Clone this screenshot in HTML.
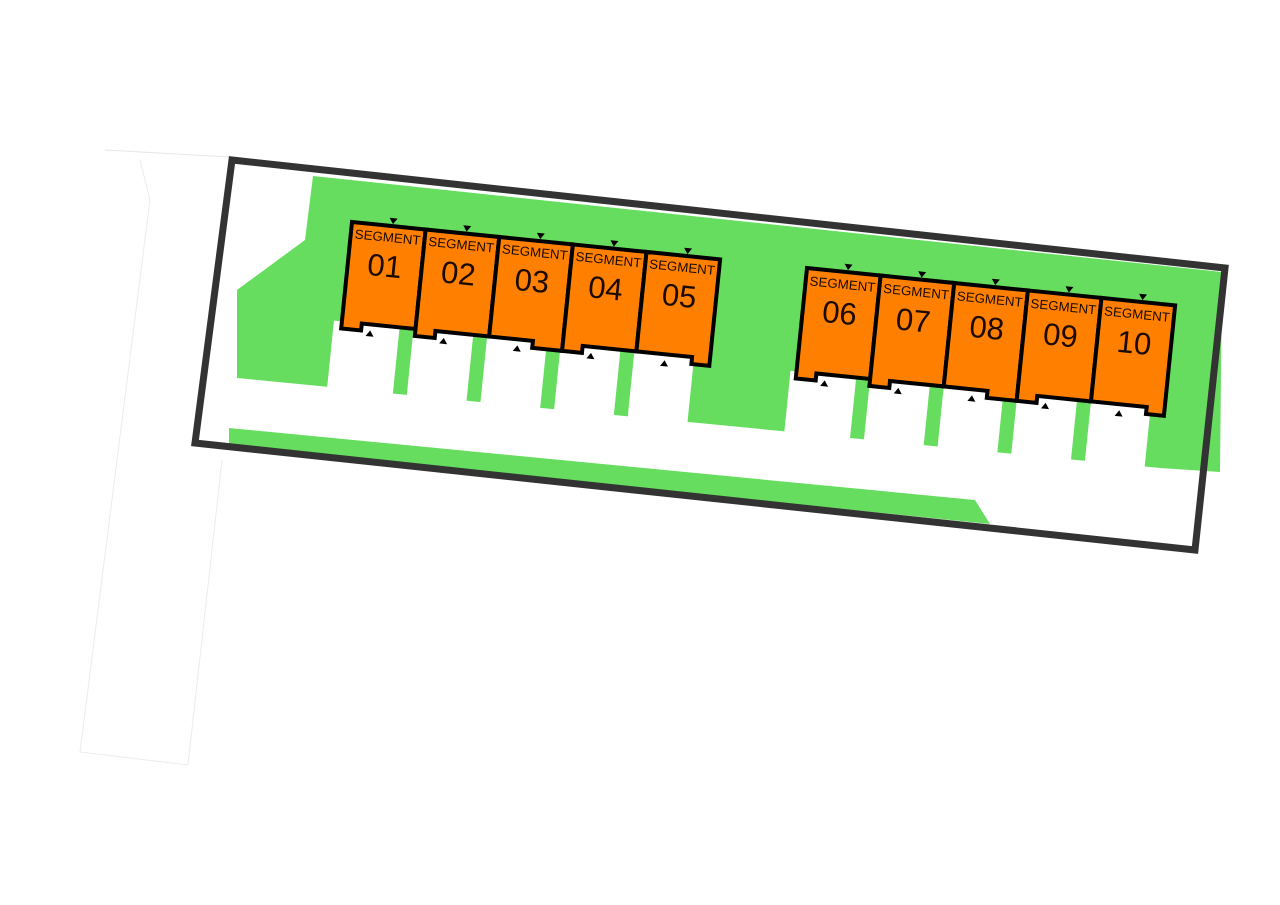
<!DOCTYPE html>
<html><head><meta charset="utf-8"><style>
html,body{margin:0;padding:0;background:#fff}
svg{display:block}
text{font-family:"Liberation Sans",sans-serif;fill:#1a0a00}
</style></head><body>
<svg width="1280" height="905" viewBox="0 0 1280 905" xmlns="http://www.w3.org/2000/svg">
<!-- faint outline on left -->
<polyline points="105,150 230,157" fill="none" stroke="#e6e6e6" stroke-width="1"/>
<polyline points="140,160 150,200 80,752 188,765 222,460" fill="none" stroke="#ececec" stroke-width="1"/>

<!-- upper green -->
<polygon points="313,176 1222,272 1220,472 1160,468 237,378 237,290 305,240" fill="#66dd5f"/>

<!-- driveways -->
<g transform="translate(352,222) rotate(5.8)">
  <rect x="-8" y="100" width="362" height="80" fill="#fff"/>
  <rect x="58" y="100" width="14" height="80" fill="#66dd5f"/>
  <rect x="132" y="100" width="14" height="80" fill="#66dd5f"/>
  <rect x="206" y="100" width="14" height="80" fill="#66dd5f"/>
  <rect x="280" y="100" width="14" height="80" fill="#66dd5f"/>
</g>
<g transform="translate(807,268) rotate(5.8)">
  <rect x="-6" y="104" width="362" height="80" fill="#fff"/>
  <rect x="60" y="104" width="14" height="80" fill="#66dd5f"/>
  <rect x="134" y="104" width="14" height="80" fill="#66dd5f"/>
  <rect x="208" y="104" width="14" height="80" fill="#66dd5f"/>
  <rect x="282" y="104" width="14" height="80" fill="#66dd5f"/>
</g>

<!-- road -->
<polygon points="233,378 1200,472 1200,560 229,428" fill="#fff"/>
<!-- lower green strip -->
<polygon points="229,428 975,500 990,524 229,446" fill="#66dd5f"/>

<!-- houses group 1 -->
<g transform="translate(352,222) rotate(5.8)" stroke="#000" stroke-width="4" stroke-linejoin="miter" fill="#ff8000">
  <path d="M0,0 H74 V100 H20 V107 H0 Z"/>
  <path d="M0,0 H74 V100 H20 V107 H0 Z" transform="translate(74,0)"/>
  <path d="M0,0 H74 V107 H44 V100 H0 Z" transform="translate(148,0)"/>
  <path d="M0,0 H74 V100 H20 V107 H0 Z" transform="translate(222,0)"/>
  <path d="M0,0 H74 V107 H56 V100 H0 Z" transform="translate(296,0)"/>
</g>
<g transform="translate(352,222) rotate(5.8)" fill="#000">
  <polygon points="37,-8 45,-8 41,-2"/><polygon points="111,-8 119,-8 115,-2"/><polygon points="185,-8 193,-8 189,-2"/><polygon points="259,-8 267,-8 263,-2"/><polygon points="333,-8 341,-8 337,-2"/>
  <polygon points="25,112 33,112 29,106"/><polygon points="99,112 107,112 103,106"/><polygon points="173,112 181,112 177,106"/><polygon points="247,112 255,112 251,106"/><polygon points="321,112 329,112 325,106"/>
</g>
<g transform="translate(352,222) rotate(5.8)" font-size="13" text-anchor="middle">
  <text x="37" y="16" textLength="66" lengthAdjust="spacingAndGlyphs">SEGMENT</text><text x="111" y="16" textLength="66" lengthAdjust="spacingAndGlyphs">SEGMENT</text><text x="185" y="16" textLength="66" lengthAdjust="spacingAndGlyphs">SEGMENT</text><text x="259" y="16" textLength="66" lengthAdjust="spacingAndGlyphs">SEGMENT</text><text x="333" y="16" textLength="66" lengthAdjust="spacingAndGlyphs">SEGMENT</text>
</g>
<g transform="translate(352,222) rotate(5.8)" font-size="31" text-anchor="middle">
  <text x="37" y="51">01</text><text x="111" y="51">02</text><text x="185" y="51">03</text><text x="259" y="51">04</text><text x="333" y="51">05</text>
</g>

<!-- houses group 2 -->
<g transform="translate(807,268) rotate(5.8)" stroke="#000" stroke-width="4" stroke-linejoin="miter" fill="#ff8000">
  <path d="M0,0 H74 V104 H20 V111 H0 Z"/>
  <path d="M0,0 H74 V104 H20 V111 H0 Z" transform="translate(74,0)"/>
  <path d="M0,0 H74 V111 H44 V104 H0 Z" transform="translate(148,0)"/>
  <path d="M0,0 H74 V104 H20 V111 H0 Z" transform="translate(222,0)"/>
  <path d="M0,0 H74 V111 H56 V104 H0 Z" transform="translate(296,0)"/>
</g>
<g transform="translate(807,268) rotate(5.8)" fill="#000">
  <polygon points="37,-8 45,-8 41,-2"/><polygon points="111,-8 119,-8 115,-2"/><polygon points="185,-8 193,-8 189,-2"/><polygon points="259,-8 267,-8 263,-2"/><polygon points="333,-8 341,-8 337,-2"/>
  <polygon points="25,116 33,116 29,110"/><polygon points="99,116 107,116 103,110"/><polygon points="173,116 181,116 177,110"/><polygon points="247,116 255,116 251,110"/><polygon points="321,116 329,116 325,110"/>
</g>
<g transform="translate(807,268) rotate(5.8)" font-size="13" text-anchor="middle">
  <text x="37" y="17" textLength="66" lengthAdjust="spacingAndGlyphs">SEGMENT</text><text x="111" y="17" textLength="66" lengthAdjust="spacingAndGlyphs">SEGMENT</text><text x="185" y="17" textLength="66" lengthAdjust="spacingAndGlyphs">SEGMENT</text><text x="259" y="17" textLength="66" lengthAdjust="spacingAndGlyphs">SEGMENT</text><text x="333" y="17" textLength="66" lengthAdjust="spacingAndGlyphs">SEGMENT</text>
</g>
<g transform="translate(807,268) rotate(5.8)" font-size="31" text-anchor="middle">
  <text x="37" y="52">06</text><text x="111" y="52">07</text><text x="185" y="52">08</text><text x="259" y="52">09</text><text x="333" y="52">10</text>
</g>

<!-- frame -->
<polygon points="232,160 1225,268 1195,550 195,443" fill="none" stroke="#333" stroke-width="7" stroke-linejoin="miter"/>
</svg>
</body></html>
